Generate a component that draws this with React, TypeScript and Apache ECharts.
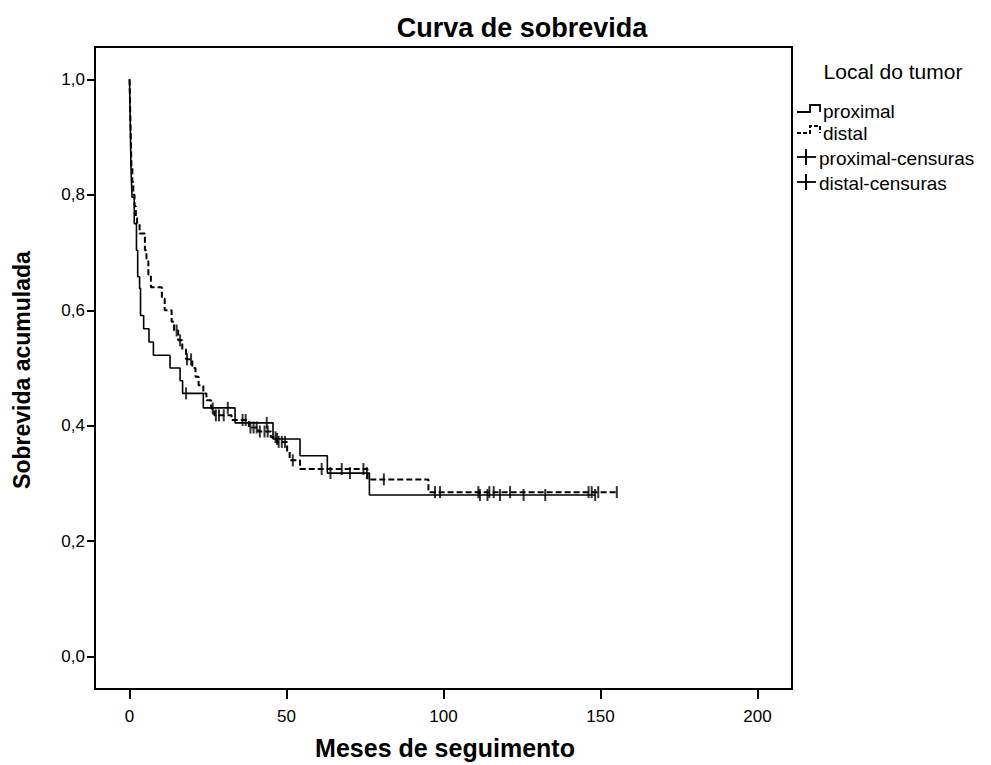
import React, { useEffect, useRef } from "react";
import * as echarts from "echarts";

const FONT = '"Liberation Sans", Arial, sans-serif';

const xTicks = [0, 50, 100, 150, 200];
const yTicks = [0, 0.2, 0.4, 0.6, 0.8, 1.0];

// Kaplan-Meier steps: [month, cumulative survival] (drop occurs at that month)
const proximalSteps: [number, number][] = [
  [0, 1.0], [0.15, 0.95], [0.3, 0.9], [0.45, 0.85], [0.6, 0.825], [0.8, 0.796],
  [1.5, 0.75], [2.2, 0.704], [2.6, 0.658], [3.2, 0.638], [3.5, 0.591], [4.5, 0.568],
  [6.2, 0.545], [7.6, 0.522], [12.9, 0.5], [16.1, 0.478], [16.9, 0.456],
  [23.5, 0.431], [33.6, 0.405], [45.7, 0.377], [54.3, 0.348], [63.0, 0.318],
  [76.4, 0.28], [148.3, 0.28],
];

const distalSteps: [number, number][] = [
  [0, 1.0], [0.2, 0.95], [0.4, 0.9], [0.6, 0.85], [0.9, 0.822], [1.2, 0.8],
  [1.6, 0.78], [2.0, 0.76], [2.4, 0.75], [3.2, 0.733], [4.9, 0.704], [5.4, 0.685],
  [6.0, 0.662], [6.8, 0.64], [10.3, 0.62], [11.2, 0.6], [13.4, 0.58], [14.2, 0.565],
  [15.5, 0.548], [16.8, 0.532], [18.0, 0.515], [20.0, 0.5], [21.0, 0.485],
  [22.0, 0.47], [23.5, 0.456], [24.5, 0.444], [26.0, 0.43], [27.0, 0.418],
  [32.5, 0.41], [38.0, 0.397], [41.0, 0.39], [45.0, 0.38], [47.0, 0.372],
  [50.2, 0.355], [51.0, 0.34], [54.3, 0.325], [75.8, 0.307], [95.2, 0.285],
  [155.2, 0.285],
];

// censored observation months
const proximalCensored = [18.0, 31.3, 43.7, 47.0, 64.0, 70.2, 75.6, 111.6, 114.0, 118.0, 125.5, 132.4, 148.3];
const distalCensored = [
  15.0, 16.1, 18.3, 19.6, 26.5, 27.5, 28.5, 30.0, 36.0, 37.0, 38.5, 39.5, 40.5,
  41.5, 43.0, 44.0, 46.5, 47.5, 48.5, 49.5, 52.0, 61.2, 67.6, 74.5, 81.0, 97.3,
  98.9, 111.1, 114.6, 116.0, 121.2, 146.2, 147.2, 149.3, 155.2,
];

function survivalAt(steps: [number, number][], t: number): number {
  let s = steps[0][1];
  for (const [time, val] of steps) {
    if (time <= t) s = val;
    else break;
  }
  return s;
}

export default function App() {
  const ref = useRef<HTMLDivElement>(null);
  useEffect(() => {
    if (!ref.current) return;
    const chart = echarts.init(ref.current, undefined, { renderer: "svg" });
    const censorSymbol = { symbol: "rect", symbolSize: [2, 12] as [number, number] };
    const itemFont = `19px ${FONT}`;
    const option: any = {
      animation: false,
      backgroundColor: "#fff",
      grid: {
        left: 95,
        top: 47,
        width: 697,
        height: 642,
        show: true,
        borderColor: "#000",
        borderWidth: 2,
        backgroundColor: "transparent",
      },
      xAxis: {
        type: "value",
        min: -11,
        max: 211,
        splitLine: { show: false },
        axisLine: { show: true, onZero: false, lineStyle: { color: "#000", width: 2 } },
        axisTick: {
          show: true,
          length: 10,
          customValues: xTicks,
          lineStyle: { color: "#000", width: 2 },
        },
        axisLabel: {
          customValues: xTicks,
          margin: 19,
          color: "#000",
          fontSize: 17,
          fontFamily: FONT,
        },
      },
      yAxis: {
        type: "value",
        min: -0.056,
        max: 1.056,
        splitLine: { show: false },
        axisLine: { show: true, onZero: false, lineStyle: { color: "#000", width: 2 } },
        axisTick: {
          show: true,
          length: 8,
          customValues: yTicks,
          lineStyle: { color: "#000", width: 2 },
        },
        axisLabel: {
          customValues: yTicks,
          margin: 10,
          color: "#000",
          fontSize: 17,
          fontFamily: FONT,
          formatter: (v: number) => v.toFixed(1).replace(".", ","),
        },
      },
      series: [
        {
          name: "proximal",
          type: "line",
          step: "end",
          showSymbol: false,
          data: proximalSteps,
          lineStyle: { color: "#000", width: 1.6 },
          z: 3,
        },
        {
          name: "distal",
          type: "line",
          step: "end",
          showSymbol: false,
          data: distalSteps,
          lineStyle: { color: "#000", width: 2, type: [6, 3] },
          z: 3,
        },
        {
          name: "proximal-censuras",
          type: "scatter",
          ...censorSymbol,
          itemStyle: { color: "#000" },
          data: proximalCensored.map((t) => [t, survivalAt(proximalSteps, t)]),
          z: 4,
        },
        {
          name: "distal-censuras",
          type: "scatter",
          ...censorSymbol,
          itemStyle: { color: "#000" },
          data: distalCensored.map((t) => [t, survivalAt(distalSteps, t)]),
          z: 4,
        },
      ],
      graphic: [
        {
          type: "text",
          x: 522,
          y: 28,
          style: {
            text: "Curva de sobrevida",
            font: `bold 27px ${FONT}`,
            fill: "#000",
            textAlign: "center",
            textVerticalAlign: "middle",
          },
        },
        {
          type: "text",
          x: 22,
          y: 370,
          rotation: Math.PI / 2,
          style: {
            text: "Sobrevida acumulada",
            font: `bold 23px ${FONT}`,
            fill: "#000",
            textAlign: "center",
            textVerticalAlign: "middle",
          },
        },
        {
          type: "text",
          x: 445,
          y: 748,
          style: {
            text: "Meses de seguimento",
            font: `bold 25px ${FONT}`,
            fill: "#000",
            textAlign: "center",
            textVerticalAlign: "middle",
          },
        },
        {
          type: "text",
          x: 893,
          y: 71,
          style: {
            text: "Local do tumor",
            font: `21px ${FONT}`,
            fill: "#000",
            textAlign: "center",
            textVerticalAlign: "middle",
          },
        },
        {
          type: "polyline",
          shape: { points: [[797, 112], [810, 112], [810, 105], [820, 105], [820, 112]] },
          style: { stroke: "#000", lineWidth: 1.8, fill: null },
        },
        {
          type: "text",
          x: 823,
          y: 111,
          style: { text: "proximal", font: itemFont, fill: "#000", textVerticalAlign: "middle" },
        },
        {
          type: "polyline",
          shape: { points: [[797, 133], [810, 133], [810, 126], [820, 126], [820, 133]] },
          style: { stroke: "#000", lineWidth: 2, fill: null, lineDash: [4, 2] },
        },
        {
          type: "text",
          x: 823,
          y: 133,
          style: { text: "distal", font: itemFont, fill: "#000", textVerticalAlign: "middle" },
        },
        {
          type: "line",
          shape: { x1: 797, y1: 157, x2: 816, y2: 157 },
          style: { stroke: "#000", lineWidth: 1.8 },
        },
        {
          type: "line",
          shape: { x1: 806, y1: 149, x2: 806, y2: 165 },
          style: { stroke: "#000", lineWidth: 2 },
        },
        {
          type: "text",
          x: 819,
          y: 158,
          style: { text: "proximal-censuras", font: itemFont, fill: "#000", textVerticalAlign: "middle" },
        },
        {
          type: "line",
          shape: { x1: 797, y1: 182, x2: 816, y2: 182 },
          style: { stroke: "#000", lineWidth: 1.8 },
        },
        {
          type: "line",
          shape: { x1: 806, y1: 174, x2: 806, y2: 190 },
          style: { stroke: "#000", lineWidth: 2 },
        },
        {
          type: "text",
          x: 819,
          y: 183,
          style: { text: "distal-censuras", font: itemFont, fill: "#000", textVerticalAlign: "middle" },
        },
      ],
    };
    chart.setOption(option);
    return () => chart.dispose();
  }, []);
  return (
    <div
      ref={ref}
      style={{ position: "fixed", left: 0, top: 0, width: 991, height: 765, background: "#fff" }}
    />
  );
}
